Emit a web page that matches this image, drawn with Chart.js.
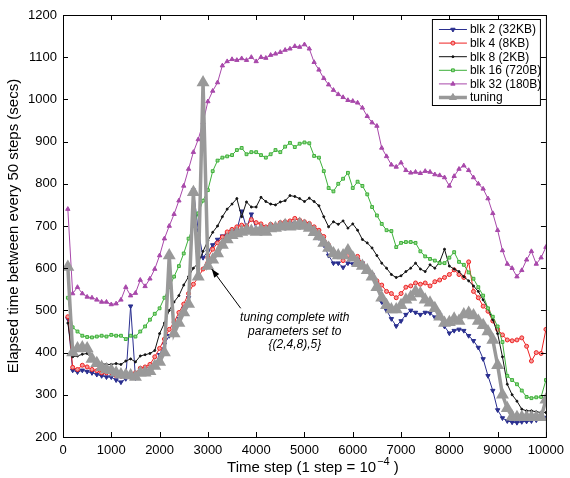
<!DOCTYPE html>
<html>
<head>
<meta charset="utf-8">
<script src="https://cdn.jsdelivr.net/npm/chart.js@4.4.1/dist/chart.umd.min.js"></script>
<style>
  html, body { margin: 0; padding: 0; background: #fff; }
  #wrap { width: 570px; height: 478px; }
</style>
</head>
<body>
<div id="wrap"><canvas id="tuneChart" width="570" height="478"></canvas></div>
<script>
// time steps (every 100 steps)
const steps = [
  100, 200, 300, 400, 500, 600, 700, 800, 900, 1000,
  1100, 1200, 1300, 1400, 1500, 1600, 1700, 1800, 1900, 2000,
  2100, 2200, 2300, 2400, 2500, 2600, 2700, 2800, 2900, 3000,
  3100, 3200, 3300, 3400, 3500, 3600, 3700, 3800, 3900, 4000,
  4100, 4200, 4300, 4400, 4500, 4600, 4700, 4800, 4900, 5000,
  5100, 5200, 5300, 5400, 5500, 5600, 5700, 5800, 5900, 6000,
  6100, 6200, 6300, 6400, 6500, 6600, 6700, 6800, 6900, 7000,
  7100, 7200, 7300, 7400, 7500, 7600, 7700, 7800, 7900, 8000,
  8100, 8200, 8300, 8400, 8500, 8600, 8700, 8800, 8900, 9000,
  9100, 9200, 9300, 9400, 9500, 9600, 9700, 9800, 9900, 10000
];

const blk2 = [
  480, 358, 354, 358, 355, 352, 348, 345, 342, 342,
  335, 330, 338, 510, 340, 352, 356, 362, 370, 395,
  420, 440, 458, 480, 505, 530, 785, 690, 625, 640,
  655, 668, 676, 680, 688, 690, 735, 695, 728, 692,
  695, 690, 698, 694, 700, 696, 700, 706, 700, 698,
  694, 685, 672, 655, 630, 612, 612, 602, 612, 610,
  620, 612, 595, 585, 555, 520, 500, 480, 463, 475,
  490, 500, 495, 490, 495, 494, 484, 490, 462, 446,
  452, 455, 452, 440, 428, 412, 385, 345, 310, 264,
  245, 238, 235, 234, 236, 237, 238, 240, 244, 246
];

const blk4 = [
  485, 365, 360, 370, 366, 360, 357, 352, 352, 352,
  345, 344, 350, 342, 352, 363, 366, 372, 390, 410,
  432, 455, 472, 495, 515, 540, 562, 578, 598, 625,
  645, 660, 674, 686, 692, 698, 702, 700, 715, 708,
  705, 698, 704, 702, 708, 710, 712, 718, 714, 710,
  706, 698, 690, 675, 655, 640, 628, 618, 630, 628,
  628, 612, 592, 585, 570, 560, 545, 540, 530, 540,
  555, 558, 565, 562, 565, 558, 568, 572, 578, 585,
  596, 585, 578, 615, 545, 530, 510, 498, 475, 455,
  442, 430, 428, 430, 435, 415, 380, 400, 398, 455
];

const blk8 = [
  470, 390, 392, 396, 398, 385, 378, 374, 372, 372,
  374, 372, 380, 385, 378, 392, 395, 398, 405, 445,
  470, 500, 520, 535, 560, 580, 600, 612, 640, 665,
  685, 700, 722, 740, 752, 765, 722, 757, 745, 745,
  768, 758, 752, 750, 757, 760, 772, 770, 765, 758,
  766, 758, 748, 722, 698, 710, 704, 712, 695, 705,
  690, 668, 660, 648, 630, 612, 600, 585, 578, 582,
  592, 600, 612, 598, 592, 608, 600, 615, 645, 605,
  598, 592, 580, 570, 558, 545, 525, 505, 478, 445,
  390, 325, 300, 285, 266, 262, 262, 260, 258, 258
];

const blk16 = [
  530, 460, 450, 440, 437, 436, 438, 440, 438, 442,
  440, 440, 432, 440, 438, 450, 462, 478, 492, 505,
  530, 555, 580, 605, 635, 670, 700, 730, 760, 785,
  830, 855, 862, 865, 868, 880, 885, 870, 875, 875,
  868, 862, 870, 880, 875, 888, 897, 887, 895, 898,
  896, 866, 862, 830, 790, 782, 800, 812, 826, 790,
  805, 795, 775, 745, 725, 705, 690, 688, 650, 660,
  662, 662, 660, 640, 628, 622, 618, 612, 612, 625,
  638, 615, 608, 590, 575, 555, 535, 505, 485, 462,
  425, 345, 335, 325, 310, 295, 292, 294, 295, 335
];

const blk32 = [
  740, 540, 555, 540, 532, 530, 525, 520, 520, 514,
  516, 525, 555, 535, 541, 572, 557, 575, 598, 630,
  670, 700, 728, 760, 795, 835, 875, 905, 945, 995,
  1020, 1040, 1080, 1090, 1095, 1093, 1097, 1093, 1100, 1090,
  1100, 1098, 1105, 1108, 1112, 1117, 1120, 1126, 1124, 1130,
  1120, 1088, 1070, 1050, 1035, 1022, 1012, 1005, 998, 996,
  992, 980, 960, 945, 937, 885, 865, 845, 840, 850,
  832, 826, 828, 825, 830, 828, 822, 820, 815, 795,
  818, 835, 843, 832, 815, 800, 788, 765, 730, 690,
  642, 610, 600, 580, 595, 620, 640, 610, 625, 650
];

const tuning = [
  603, 400, 410, 412, 410, 385, 375, 365, 360, 358,
  352, 348, 347, 346, 342, 352, 352, 356, 368, 378,
  400, 630, 445, 470, 495, 515, 780, 580, 1040, 605,
  620, 635, 655, 668, 678, 682, 686, 690, 688, 686,
  690, 686, 694, 695, 698, 702, 698, 700, 705, 700,
  695, 685, 675, 660, 648, 635, 630, 630, 642, 625,
  612, 605, 595, 580, 555, 530, 512, 502, 502, 512,
  525, 532, 545, 540, 525, 518, 505, 485, 470, 472,
  480, 475, 490, 494, 488, 475, 465, 450, 430, 370,
  300, 268, 248, 247, 247, 247, 247, 247, 247, 288
];

const seriesNames = ["blk 2 (32KB)", "blk 4 (8KB)", "blk 8 (2KB)", "blk 16 (720B)", "blk 32 (180B)", "tuning"];
const noteLines = ["tuning complete with", "parameters set to", "{(2,4,8),5}"];
const xTitle = ["Time step (1 step = 10", "\u22124", " )"]; // base, superscript, tail

const FONT = "'Liberation Sans', Arial, Helvetica, sans-serif";
const xy = arr => arr.map((v, i) => ({ x: steps[i], y: v }));

// box, inward ticks (matlab look), x title with superscript
const frameTicks = {
    id: "frameTicks",
    afterDraw(chart) {
        const { ctx, chartArea: a, scales } = chart;
        ctx.save();
        ctx.strokeStyle = "#000";
        ctx.lineWidth = 1;
        ctx.strokeRect(a.left + 0.5, a.top + 0.5, a.right - a.left, a.bottom - a.top);
        ctx.beginPath();
        scales.x.ticks.forEach(t => {
            const px = Math.round(scales.x.getPixelForValue(t.value)) + 0.5;
            ctx.moveTo(px, a.bottom); ctx.lineTo(px, a.bottom - 5);
            ctx.moveTo(px, a.top); ctx.lineTo(px, a.top + 5);
        });
        scales.y.ticks.forEach(t => {
            const py = Math.round(scales.y.getPixelForValue(t.value)) + 0.5;
            ctx.moveTo(a.left, py); ctx.lineTo(a.left + 5, py);
            ctx.moveTo(a.right, py); ctx.lineTo(a.right - 5, py);
        });
        ctx.stroke();

        // x axis title
        ctx.fillStyle = "#000";
        ctx.textBaseline = "alphabetic";
        ctx.textAlign = "left";
        ctx.font = "15px " + FONT;
        const w0 = ctx.measureText(xTitle[0]).width;
        const w2 = ctx.measureText(xTitle[2]).width;
        ctx.font = "11px " + FONT;
        const w1 = ctx.measureText(xTitle[1]).width;
        const total = w0 + w1 + w2;
        let tx = (a.left + a.right) / 2 + 8 - total / 2;
        const base = chart.height - 6;
        ctx.font = "15px " + FONT;
        ctx.fillText(xTitle[0], tx, base);
        ctx.font = "11px " + FONT;
        ctx.fillText(xTitle[1], tx + w0 + 1, base - 7);
        ctx.font = "15px " + FONT;
        ctx.fillText(xTitle[2], tx + w0 + w1 + 1, base);
        ctx.restore();
    }
};

// arrow + italic note
const notePlugin = {
    id: "notePlugin",
    afterDatasetsDraw(chart) {
        const { ctx, scales: { x, y } } = chart;
        const x1 = x.getPixelForValue(3680), y1 = y.getPixelForValue(505);
        const x2 = x.getPixelForValue(3080), y2 = y.getPixelForValue(598);
        ctx.save();
        ctx.strokeStyle = "#000";
        ctx.fillStyle = "#000";
        ctx.lineWidth = 1;
        ctx.beginPath();
        ctx.moveTo(x1, y1); ctx.lineTo(x2, y2);
        ctx.stroke();
        const ang = Math.atan2(y2 - y1, x2 - x1);
        ctx.beginPath();
        ctx.moveTo(x2, y2);
        ctx.lineTo(x2 - 9 * Math.cos(ang - 0.35), y2 - 9 * Math.sin(ang - 0.35));
        ctx.lineTo(x2 - 9 * Math.cos(ang + 0.35), y2 - 9 * Math.sin(ang + 0.35));
        ctx.closePath();
        ctx.fill();
        ctx.font = "italic 12px " + FONT;
        ctx.textAlign = "center";
        ctx.textBaseline = "middle";
        const cx = x.getPixelForValue(4800), cy = y.getPixelForValue(482);
        noteLines.forEach((s, i) => ctx.fillText(s, cx, cy + i * 13.5));
        ctx.restore();
    }
};

// legend box in the top right corner
const boxLegend = {
    id: "boxLegend",
    afterDraw(chart) {
        const { ctx, chartArea: a } = chart;
        const w = 108, h = 86;
        const x0 = a.right - 114, y0 = a.top + 4;
        ctx.save();
        ctx.fillStyle = "#fff";
        ctx.fillRect(x0, y0, w, h);
        ctx.strokeStyle = "#000";
        ctx.lineWidth = 1;
        ctx.strokeRect(x0 + 0.5, y0 + 0.5, w, h);
        ctx.font = "12px " + FONT;
        ctx.textBaseline = "middle";
        ctx.textAlign = "left";
        chart.data.datasets.forEach((ds, i) => {
            const ry = y0 + 10.5 + i * 13.6;
            ctx.strokeStyle = ds.borderColor;
            ctx.lineWidth = ds.borderWidth;
            ctx.beginPath();
            ctx.moveTo(x0 + 7, ry); ctx.lineTo(x0 + 35, ry);
            ctx.stroke();
            if (Chart.helpers && Chart.helpers.drawPoint) {
                ctx.fillStyle = ds.pointBackgroundColor;
                ctx.strokeStyle = ds.borderColor;
                ctx.lineWidth = 1;
                Chart.helpers.drawPoint(ctx, {
                    pointStyle: ds.pointStyle,
                    rotation: ds.pointRotation || 0,
                    radius: ds.pointRadius,
                    borderWidth: 1
                }, x0 + 21, ry);
            }
            ctx.fillStyle = "#000";
            ctx.fillText(ds.label, x0 + 38, ry + 0.5);
        });
        ctx.restore();
    }
};

Chart.defaults.font.family = FONT;
Chart.defaults.color = "#000";

const ctx = document.getElementById("tuneChart").getContext("2d");
const chart = new Chart(ctx, {
    type: "line",
    data: {
        datasets: [
            {
                label: seriesNames[0], data: xy(blk2), order: 5,
                borderColor: "#2a2f8f", borderWidth: 1,
                pointStyle: "triangle", pointRotation: 180, pointRadius: 2.5,
                pointBackgroundColor: "#2a2f8f", pointBorderColor: "#2a2f8f"
            },
            {
                label: seriesNames[1], data: xy(blk4), order: 4,
                borderColor: "#ee2222", borderWidth: 1,
                pointStyle: "circle", pointRadius: 2,
                pointBackgroundColor: "#f59a9a", pointBorderColor: "#ee2222"
            },
            {
                label: seriesNames[2], data: xy(blk8), order: 3,
                borderColor: "#111111", borderWidth: 1,
                pointStyle: "circle", pointRadius: 1,
                pointBackgroundColor: "#111111", pointBorderColor: "#111111"
            },
            {
                label: seriesNames[3], data: xy(blk16), order: 2,
                borderColor: "#3db03a", borderWidth: 1,
                pointStyle: "rect", pointRadius: 2,
                pointBackgroundColor: "#9bd98f", pointBorderColor: "#3db03a"
            },
            {
                label: seriesNames[4], data: xy(blk32), order: 1,
                borderColor: "#a848aa", borderWidth: 1,
                pointStyle: "triangle", pointRadius: 2.5,
                pointBackgroundColor: "#a848aa", pointBorderColor: "#a848aa"
            },
            {
                label: seriesNames[5], data: xy(tuning), order: 0,
                borderColor: "#999999", borderWidth: 3.5,
                pointStyle: "triangle", pointRadius: 4,
                pointBackgroundColor: "#999999", pointBorderColor: "#999999"
            }
        ]
    },
    options: {
        responsive: false,
        animation: false,
        devicePixelRatio: 1,
        layout: { padding: { left: 0, right: 19, top: 15, bottom: 0 } },
        elements: { line: { tension: 0 }, point: { borderWidth: 1 } },
        scales: {
            x: {
                type: "linear", min: 0, max: 10000,
                grid: { display: false, drawTicks: false },
                border: { display: false },
                ticks: {
                    stepSize: 1000, autoSkip: false, maxRotation: 0, padding: 6,
                    font: { size: 13 }, callback: v => String(v)
                },
                title: { display: false },
                afterFit: s => { s.height = 41; }
            },
            y: {
                type: "linear", min: 200, max: 1200,
                grid: { display: false, drawTicks: false },
                border: { display: false },
                ticks: {
                    stepSize: 100, padding: 6,
                    font: { size: 13 }, callback: v => String(v)
                },
                title: {
                    display: true, text: "Elapsed time between every 50 steps (secs)",
                    font: { size: 15 }, padding: { top: 5, bottom: 0 }
                },
                afterFit: s => { s.width = 63; }
            }
        },
        plugins: {
            legend: { display: false },
            tooltip: { enabled: false }
        }
    },
    plugins: [notePlugin, frameTicks, boxLegend]
});
</script>
</body>
</html>
